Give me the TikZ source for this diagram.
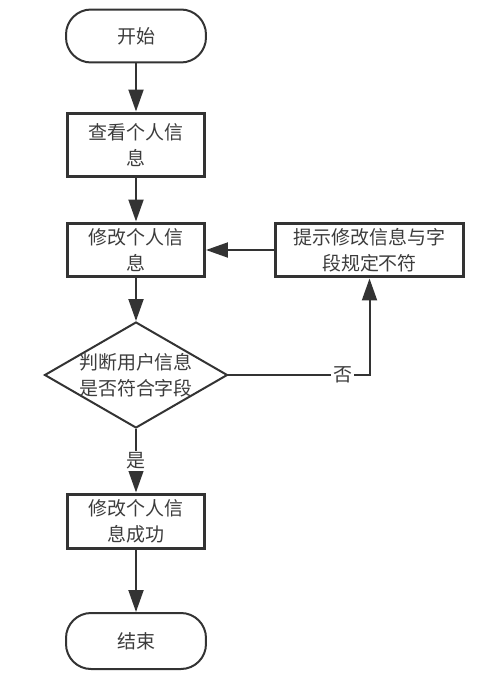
\documentclass[tikz,border=0pt]{standalone}
\usepackage{fontspec}
\newfontfamily\cjk{Noto Sans CJK SC}
\usetikzlibrary{shapes.geometric}
\usetikzlibrary{arrows.meta}

\definecolor{linegray}{HTML}{333333}
\definecolor{textgray}{HTML}{3C3C3C}

\tikzset{
  every node/.style={font=\cjk\fontsize{10.8}{14.8}\selectfont, text=textgray, align=center},
  termbox/.style={draw=linegray, line width=0.04cm, rounded corners=0.5cm,
    minimum width=2.8cm, minimum height=1.06cm},
  procbox/.style={draw=linegray, line width=0.06cm, inner sep=0pt,
    minimum width=2.74cm, minimum height=1.08cm},
  testbox/.style={draw=linegray, line width=0.04cm, diamond, aspect=1.73, inner sep=-1pt,
    minimum width=3.66cm, minimum height=2.12cm},
  arr/.style={draw=linegray, line width=0.04cm, -{Triangle[length=0.44cm, width=0.3cm]}},
  lab/.style={fill=white, inner sep=1pt}
}

\begin{document}
\begin{tikzpicture}[x=0.02cm, y=-0.02cm]

\useasboundingbox (0,0) rectangle (494,682);

%top part
\node[termbox] (start) at (136,36) {开始};
\node[procbox, minimum height=1.28cm] (look) at (136,145) {查看个人信\\息};
\node[procbox] (edit) at (136,250) {修改个人信\\息};
\node[procbox, minimum width=3.78cm] (hint) at (369.5,250) {提示修改信息与字\\段规定不符};

% check
\node[testbox] (check) at (136,375) {判断用户信息\\是否符合字段};

%bottom part
\node[procbox] (ok) at (136,521) {修改个人信\\息成功};
\node[termbox, minimum height=1.12cm] (end) at (136,641) {结束};

% arrows
\draw[arr] (start) -- (look);
\draw[arr] (look) -- (edit);
\draw[arr] (edit) -- (check);
\draw[arr] (check) -- node[lab]{是} (ok);
\draw[arr] (ok) -- (end);
\draw[arr] (check.east) -| node[lab, pos=0.405]{否} (hint.south);
\draw[arr] (hint) -- (edit);

\end{tikzpicture}
\end{document}
